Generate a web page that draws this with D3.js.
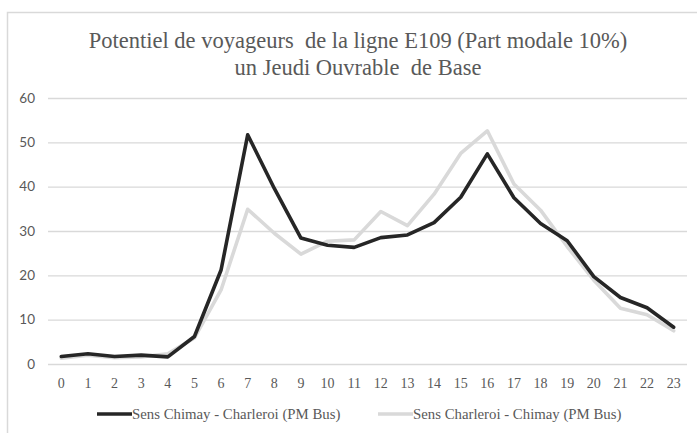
<!DOCTYPE html>
<html lang="fr">
<head>
  <meta charset="UTF-8">
  <title>Potentiel de voyageurs E109</title>
  <style>
  body { margin: 0; background: #fff; }
  svg { display: block; }
  </style>
</head>
<body>
  <div id="chart"></div>
  <script src="https://cdn.jsdelivr.net/npm/d3@7"></script>
  <script>

const hours = d3.range(0, 24).map(String)
const chimayCharleroi = [1.7, 2.3, 1.7, 2.0, 1.6, 6.2, 21.2, 51.7, 39.6, 28.4, 26.8, 26.3,
                         28.5, 29.1, 31.9, 37.6, 47.4, 37.5, 31.7, 27.8, 19.7, 15.0, 12.7, 8.3]
const charleroiChimay = [1.3, 2.0, 1.4, 1.6, 2.3, 5.9, 16.7, 34.9, 29.5, 24.8, 27.7, 28.0,
                         34.4, 31.2, 38.3, 47.5, 52.6, 40.6, 34.7, 26.5, 18.9, 12.6, 11.1, 7.5]
const seriesNames = ['Sens Chimay - Charleroi (PM Bus)', 'Sens Charleroi - Chimay (PM Bus)']
const yTicks = [0, 10, 20, 30, 40, 50, 60]
const titleLines = ['Potentiel de voyageurs  de la ligne E109 (Part modale 10%)', 'un Jeudi Ouvrable  de Base']

const W = 697, H = 433
const margin = {top: 98, right: 10, bottom: 69, left: 48}
const serif = '"Liberation Serif", "Times New Roman", serif'

const svg = d3.select('#chart').append('svg')
    .attr('width', W)
    .attr('height', H)

// chart frame (cropped on the right / bottom)
svg.append('path')
    .attr('d', `M7.5,${H + 2}V12.5H${W + 2}`)
    .attr('fill', 'none')
    .attr('stroke', '#d9d9d9')
    .attr('stroke-width', 1.5)

const x = d3.scaleBand()
    .domain(hours)
    .range([margin.left, W - margin.right])

const y = d3.scaleLinear()
    .domain([0, 60])
    .range([H - margin.bottom, margin.top])

// gridlines + y labels
const yAxis = svg.append('g')
    .attr('transform', `translate(${margin.left},0)`)
    .call(d3.axisLeft(y).tickValues(yTicks).tickSize(-(W - margin.right - margin.left)).tickPadding(13))
yAxis.select('.domain').remove()
yAxis.selectAll('.tick line').attr('stroke', '#d9d9d9').attr('stroke-width', 1.3)
yAxis.selectAll('.tick text')
    .attr('fill', '#595959')
    .style('font-family', 'Lato, "Open Sans", sans-serif')
    .style('font-size', '13.5px')

// x labels
const xAxis = svg.append('g')
    .attr('transform', `translate(0,${H - margin.bottom})`)
    .call(d3.axisBottom(x).tickSize(0).tickPadding(14))
xAxis.select('.domain').remove()
xAxis.selectAll('.tick text')
    .attr('fill', '#595959')
    .style('font-family', serif)
    .style('font-size', '14px')

const line = d3.line()
    .x((d, i) => x(hours[i]) + x.bandwidth() / 2)
    .y(d => y(d))

const colors = ['#262626', '#d9d9d9']

// grey series drawn first, black on top
;[charleroiChimay, chimayCharleroi].forEach((s, k) => {
  svg.append('path')
      .datum(s)
      .attr('fill', 'none')
      .attr('stroke', colors[1 - k])
      .attr('stroke-width', 3.6)
      .attr('stroke-linejoin', 'round')
      .attr('stroke-linecap', 'round')
      .attr('d', line)
})

// title
const title = svg.append('text')
    .attr('text-anchor', 'middle')
    .attr('fill', '#595959')
    .style('font-family', serif)
    .style('font-size', '22.5px')
    .style('white-space', 'pre')
titleLines.forEach((t, i) => {
  title.append('tspan').attr('x', 358).attr('y', 48 + i * 27).text(t)
})

// legend
const legendX = [97, 378]
seriesNames.forEach((name, i) => {
  const g = svg.append('g').attr('transform', `translate(${legendX[i]},414)`)
  g.append('line')
      .attr('x1', 0).attr('x2', 35)
      .attr('stroke', colors[i])
      .attr('stroke-width', 3.6)
  g.append('text')
      .attr('x', 35)
      .attr('dy', '0.33em')
      .attr('fill', '#595959')
      .style('font-family', serif)
      .style('font-size', '14.8px')
      .text(name)
})

  </script>
</body>
</html>
